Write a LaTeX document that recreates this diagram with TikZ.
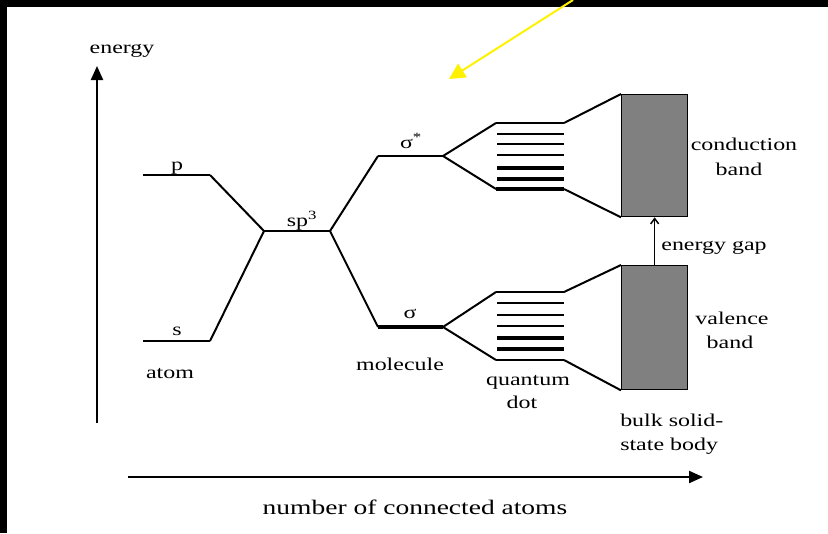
\documentclass[tikz,border=0pt]{standalone}
\usepackage{fontspec}
\setmainfont{Liberation Serif}[FakeStretch=1.33]
\usetikzlibrary{arrows.meta}
\definecolor{bandgray}{RGB}{128,128,128}
\begin{document}
\begin{tikzpicture}[x=0.75pt,y=-0.75pt,
  lvl/.style={line width=1.5pt},
  thk/.style={line width=3pt},
  diag/.style={line width=1.5pt},
  axisline/.style={line width=1.6pt,-{Triangle[length=10.5pt,width=9pt]}},
  lbl/.style={font=\fontsize{13.5}{16}\selectfont,inner sep=0pt,anchor=base},
  bandbox/.style={draw=black,line width=1pt,fill=bandgray,inner sep=0pt,minimum width=49.5pt,anchor=north west}
]
\useasboundingbox (0,0) rectangle (828,533);
\fill[white] (0,0) rectangle (828,533);
\fill[black] (0,0) rectangle (828,7);
\fill[black] (0,0) rectangle (7,533);

% axes
\coordinate (yb) at (97,423);
\coordinate (yt) at (97,66);
\draw[axisline] (yb) -- (yt);
\coordinate (xl) at (128,477);
\coordinate (xr) at (703,477);
\draw[axisline] (xl) -- (xr);
\node[lbl] (energy) at (122,53) {energy};
\node[lbl,font=\fontsize{15.5}{18}\selectfont] (natoms) at (415,514) {number of connected atoms};

% atom levels
\coordinate (pL) at (143,175); \coordinate (pR) at (210,175);
\coordinate (sL) at (143,341); \coordinate (sR) at (210,341);
\coordinate (spL) at (264,231); \coordinate (spR) at (330,231);
\coordinate (ssL) at (378,156); \coordinate (ssR) at (443,156);
\coordinate (sgL) at (378,327); \coordinate (sgR) at (443,327);
\draw[lvl] (pL) -- (pR);
\draw[lvl] (sL) -- (sR);
\draw[lvl] (spL) -- (spR);
\draw[lvl] (ssL) -- (ssR);
\draw[thk] (sgL) -- (sgR);
\draw[diag] (pR) -- (spL);
\draw[diag] (sR) -- (spL);
\draw[diag] (spR) -- (ssL);
\draw[diag] (spR) -- (sgL);

\node[lbl] (plbl) at (177,170) {p};
\node[lbl] (slbl) at (177,335) {s};
\node[lbl] (atom) at (170,378) {atom};
\node[lbl] (sp3) at (302,226) {sp\textsuperscript{3}};
\node[lbl] (sigstar) at (411,148) {σ\textsuperscript{*}};
\node[lbl] (sig) at (410,318) {σ};
\node[lbl] (molecule) at (400,370) {molecule};

% upper quantum dot
\coordinate (q1tl) at (496,123); \coordinate (q1tr) at (564,123);
\coordinate (q1bl) at (496,189); \coordinate (q1br) at (564,189);
\draw[lvl] (q1tl) -- (q1tr);
\draw[line width=3.5pt] (q1bl) -- (q1br);
\foreach \yy/\ww in {134/1.6pt,144/1.6pt,155/1.6pt,168/3pt,179/2.6pt}
  \draw[line width=\ww] (497,\yy) -- (564,\yy);
\draw[diag] (ssR) -- (q1tl);
\draw[diag] (ssR) -- (q1bl);

% lower quantum dot
\coordinate (q2tl) at (496,292); \coordinate (q2tr) at (564,292);
\coordinate (q2bl) at (496,360); \coordinate (q2br) at (564,360);
\draw[lvl] (q2tl) -- (q2tr);
\draw[lvl] (q2bl) -- (q2br);
\foreach \yy/\ww in {303/1.6pt,315/1.6pt,326/1.6pt,338/3pt,349/3pt}
  \draw[line width=\ww] (497,\yy) -- (564,\yy);
\draw[diag] (sgR) -- (q2tl);
\draw[diag] (sgR) -- (q2bl);

\node[lbl] (quantum) at (528,385) {quantum};
\node[lbl] (dot) at (522,408) {dot};

% bands
\node[bandbox,minimum height=91.5pt] (cb) at (621,94) {};
\node[bandbox,minimum height=93pt] (vb) at (621,265) {};
\draw[diag] (q1tr) -- (cb.north west);
\draw[diag] (q1br) -- (cb.south west);
\draw[diag] (q2tr) -- (vb.north west);
\draw[diag] (q2br) -- (vb.south west);
\draw[line width=1.1pt,-{Straight Barb[length=4pt,width=6pt]}] (vb.north) -- (cb.south);

\node[lbl] (cond) at (744,150) {conduction};
\node[lbl] (cband) at (739,175) {band};
\node[lbl] (gap) at (714,250) {energy gap};
\node[lbl] (val) at (732,324) {valence};
\node[lbl] (vband) at (730,348) {band};
\node[lbl,anchor=base west] (bulk) at (620,426) {bulk solid-};
\node[lbl,anchor=base west] (state) at (620,450) {state body};

% yellow pointer
\coordinate (ys) at (573,0);
\coordinate (ye) at (449,79);
\draw[yellow,line width=1.5pt,-{Triangle[length=12pt,width=12pt]}] (ys) -- (ye);
\end{tikzpicture}
\end{document}
